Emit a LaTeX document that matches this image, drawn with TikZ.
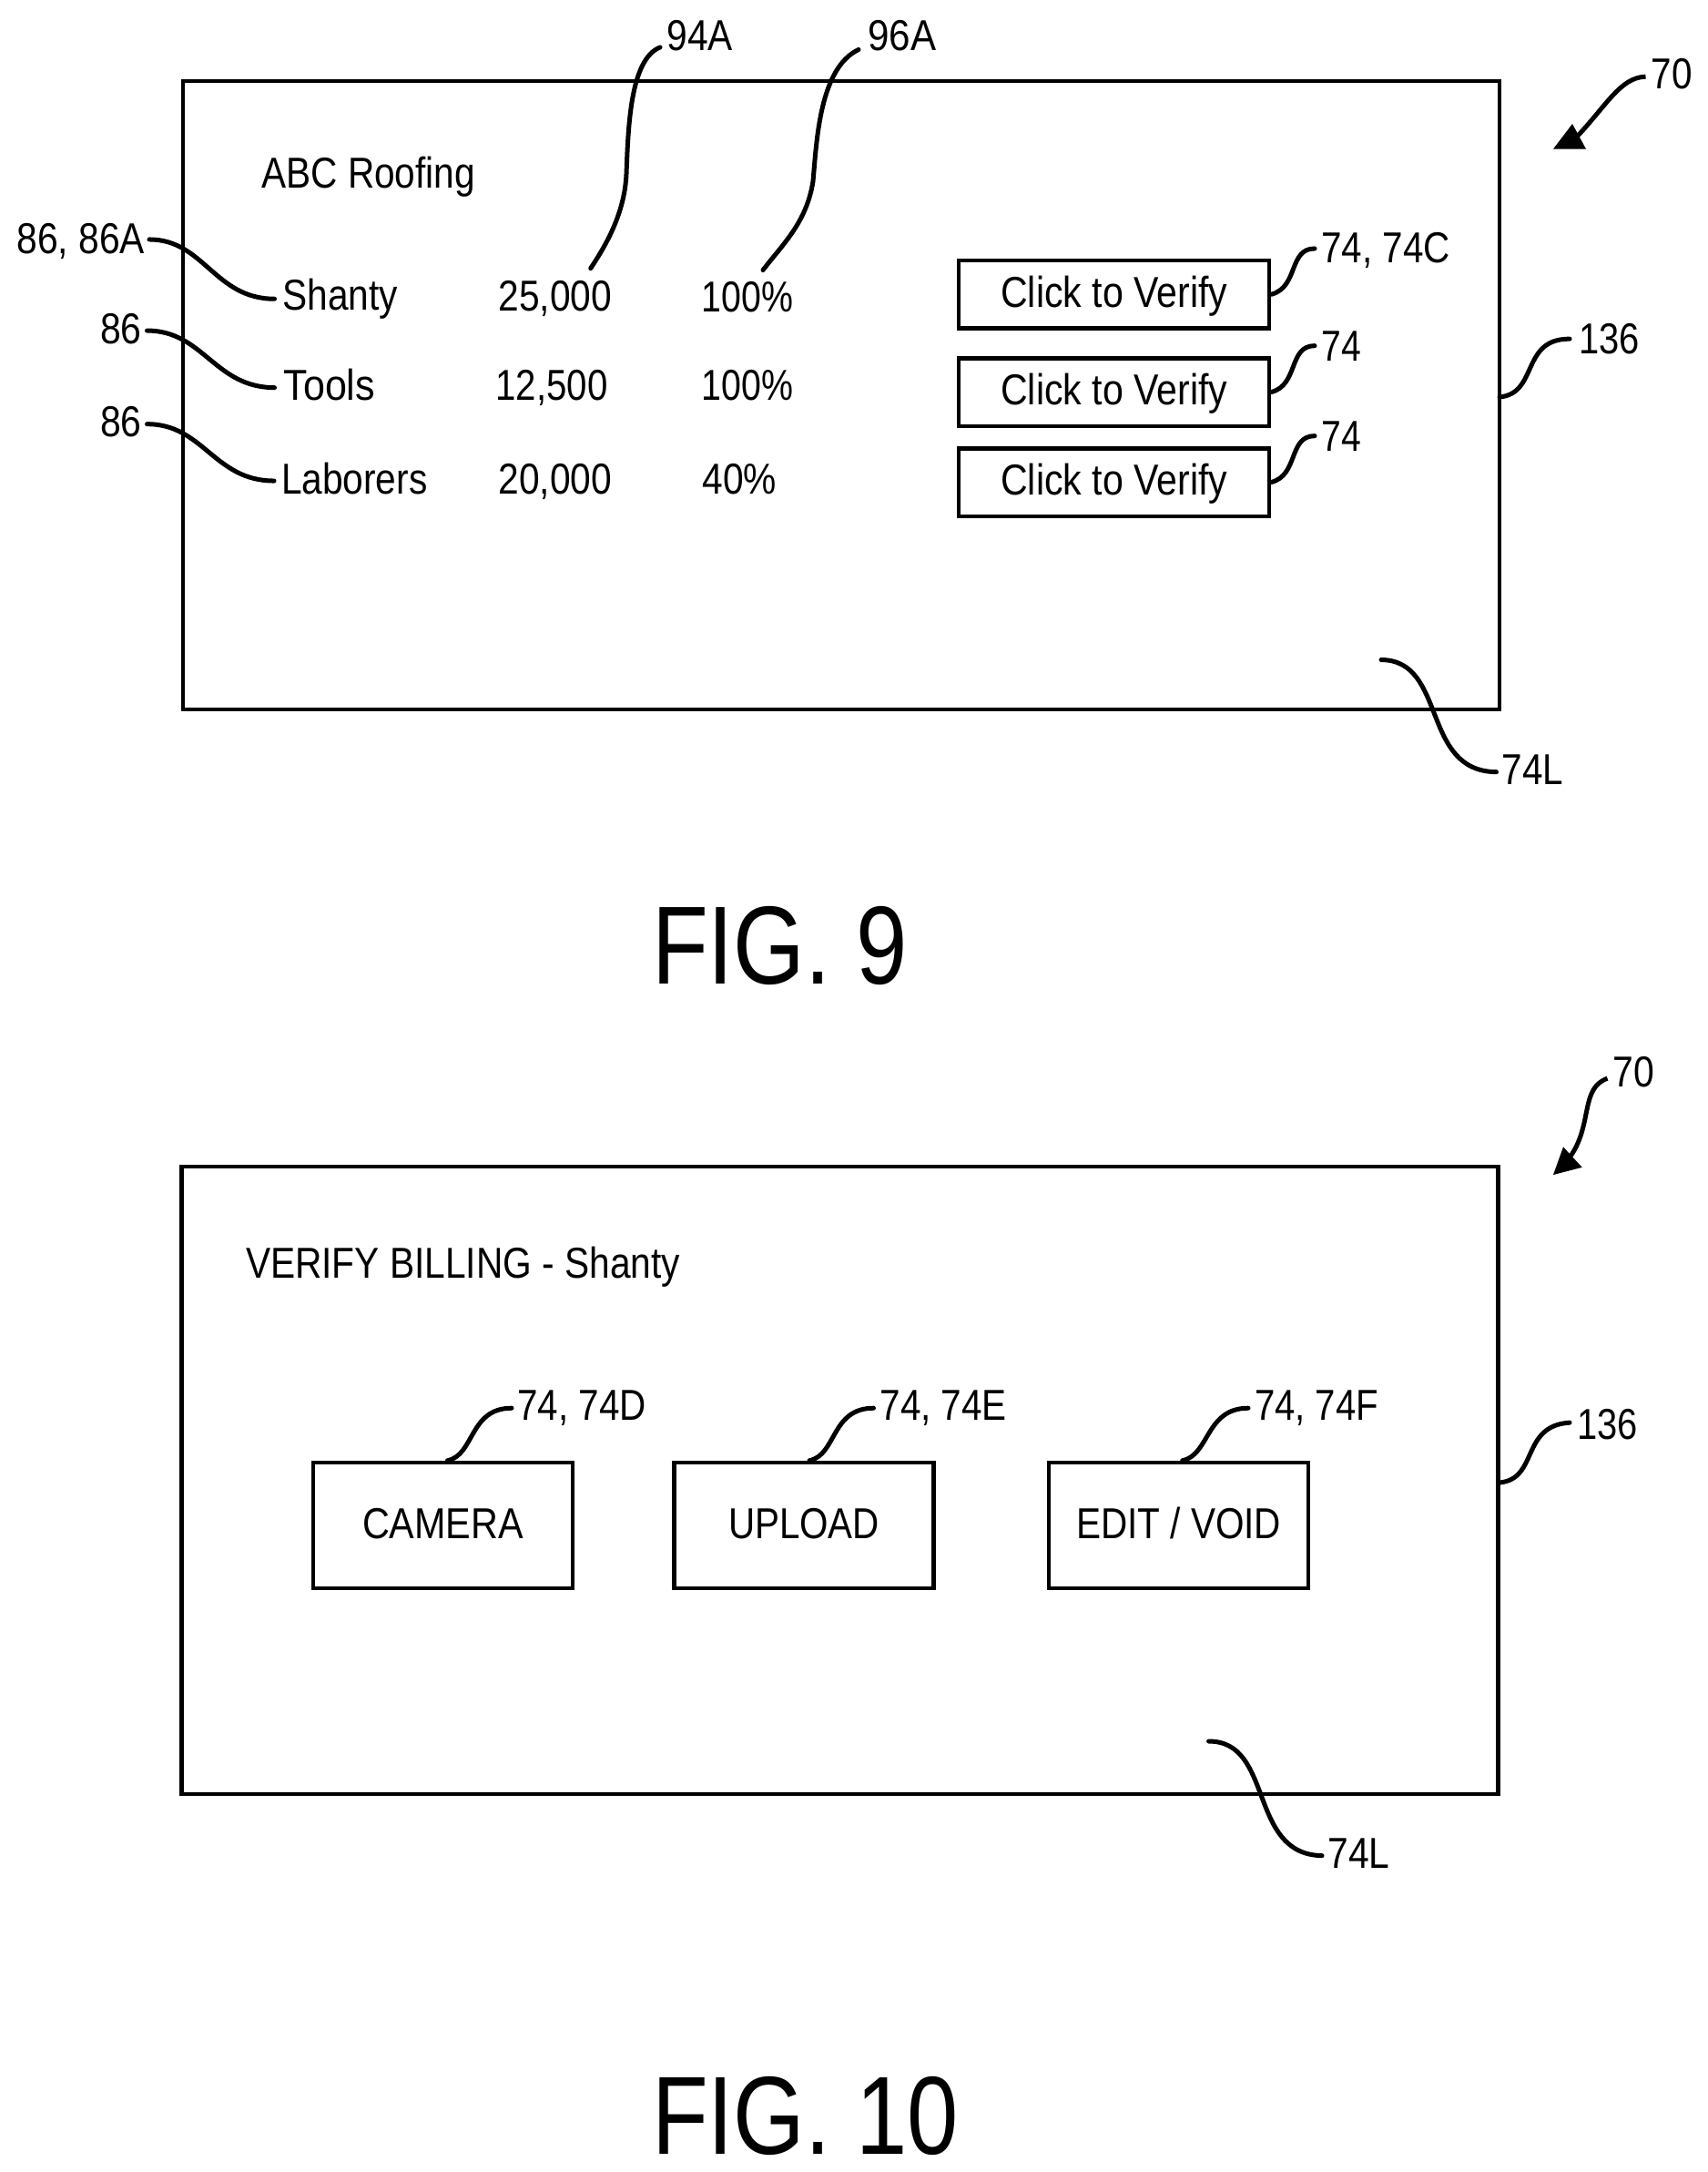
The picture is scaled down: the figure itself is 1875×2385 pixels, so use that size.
\documentclass[tikz,border=0pt]{standalone}
\usepackage{graphicx}
\usepackage{fontspec}
\setmainfont{Liberation Sans}
\newcommand\lblw{}
\newcommand\lab[5]{\pgfmathsetmacro\lblw{#3-#2+3.5}\node[lbl] (#1) at ({#2-1.5},#4) {\resizebox{\lblw pt}{\height}{#5}};}
\newcommand\bt[2]{\resizebox{#1pt}{\height}{#2}}
\tikzset{
  lbl/.style={anchor=base west,inner sep=0pt,outer sep=0pt,font=\fontsize{47.5}{50}\selectfont},
  figlbl/.style={anchor=base west,inner sep=0pt,outer sep=0pt,font=\fontsize{122}{130}\selectfont},
  screen/.style={draw=black,line width=4.5pt,inner sep=0pt,line join=miter},
  btn/.style={draw=black,line width=4.5pt,inner sep=0pt,text height=34pt,text depth=6pt,font=\fontsize{47.5}{50}\selectfont},
  lead/.style={draw=black,line width=5pt,line cap=round},
  head/.style={fill=black,draw=none}
}
\begin{document}
\begin{tikzpicture}[x=1pt,y=-1pt]
\useasboundingbox (0,0) rectangle (1875,2385);
% ---------- FIG 9 ----------
\node[screen,minimum width=1446pt,minimum height=690pt] (s9) at (924,434) {};
\lab{abc}{289}{520}{206.5}{ABC Roofing}
\lab{shanty}{312}{435}{340.5}{Shanty}
\lab{v1}{549}{670}{341.5}{25,000}
\lab{p1}{772}{869}{342}{100\%}
\lab{tools}{313}{410}{439}{Tools}
\lab{v2}{546}{665.5}{439}{12,500}
\lab{p2}{772}{869}{439}{100\%}
\lab{lab3}{310.5}{467.5}{542}{Laborers}
\lab{v3}{549}{670}{542}{20,000}
\lab{p3}{773}{851}{542}{40\%}
\lab{r86a}{20}{157}{278.5}{86, 86A}
\lab{r86b}{111.5}{153.5}{377}{86}
\lab{r86c}{111.5}{153.5}{479}{86}
\lab{r94}{734}{803}{55.5}{94A}
\lab{r96}{955}{1026.5}{56}{96A}
\lab{r70a}{1815}{1856.5}{97.5}{70}
\node[btn,minimum width=341pt,minimum height=74.5pt] (b1) at (1223.7,323.2) {\bt{249}{Click to Verify}};
\node[btn,minimum width=341pt,minimum height=74.5pt] (b2) at (1223.7,430.5) {\bt{249}{Click to Verify}};
\node[btn,minimum width=341pt,minimum height=74.5pt] (b3) at (1223.7,529.5) {\bt{249}{Click to Verify}};
\lab{r74c}{1453}{1591}{288.5}{74, 74C}
\lab{r74a}{1453}{1493}{396}{74}
\lab{r74b}{1453}{1493}{495}{74}
\lab{r136a}{1736}{1799}{388.5}{136}
\lab{r74la}{1651}{1715}{861}{74L}
\node[figlbl] (f9) at (716,1080.7) {\resizebox{281pt}{\height}{FIG. 9}};
% connectors FIG 9
\coordinate (m94) at (688,191);
\coordinate (m96) at (893,199);
\coordinate (s94) at (648.7,294.7);
\coordinate (s96) at (838,296.6);
\draw[lead] (s94) .. controls (665,270) and (686,235) .. (m94) .. controls (690,140) and (692,65) .. ([xshift=-7.5pt,yshift=4pt]r94.south west);
\draw[lead] (s96) .. controls (858,270) and (886,245) .. (m96) .. controls (897,155) and (900,75) .. ([xshift=-10.5pt,yshift=2pt]r96.south west);
\draw[lead] ([xshift=5pt,yshift=2pt]r86a.east) .. controls +(60,0) and +(-66,0) .. ([xshift=-9pt]shanty.west);
\draw[lead] ([xshift=6pt,yshift=-2.4pt]r86b.east) .. controls +(62,0) and +(-66,0) .. ([xshift=-10pt,yshift=-3.6pt]tools.west);
\draw[lead] ([xshift=6pt,yshift=-3pt]r86c.east) .. controls +(62,0) and +(-66,0) .. ([xshift=-8pt,yshift=-3pt]lab3.west);
\draw[lead] (b1.east) .. controls +(30,-8) and +(-29,0) .. ([xshift=-7.5pt,yshift=2pt]r74c.west);
\draw[lead] (b2.east) .. controls +(30,-8) and +(-29,0) .. ([xshift=-7.5pt]r74a.west);
\draw[lead] (b3.east) .. controls +(30,-8) and +(-29,0) .. ([xshift=-7.5pt]r74b.west);
\coordinate (t136a) at (1647,436);
\draw[lead] (t136a) .. controls (1690,432) and (1670,372) .. ([xshift=-10.5pt]r136a.west);
\coordinate (s74la) at (1517,724.5);
\draw[lead] (s74la) .. controls (1590,725) and (1560,847) .. ([xshift=-6pt,yshift=-3pt]r74la.west);
\coordinate (h9a) at (1706,163.6);
\coordinate (h9b) at (1727,136);
\coordinate (h9c) at (1742,163.6);
\coordinate (h9m) at (1733,149);
\draw[lead,line cap=butt] ([xshift=-6pt,yshift=-3pt]r70a.west) .. controls (1780,85) and (1765,115) .. (h9m);
\fill[head] (h9a) -- (h9b) -- (h9c) -- cycle;
% ---------- FIG 10 ----------
\node[screen,minimum width=1446pt,minimum height=689pt] (s10) at (922.5,1625.5) {};
\lab{ver}{271.5}{745}{1403.5}{VERIFY BILLING - Shanty}
\node[btn,minimum width=285pt,minimum height=138pt] (cam) at (486.5,1675) {\bt{177}{CAMERA}};
\node[btn,minimum width=285pt,minimum height=138pt] (upl) at (883,1675) {\bt{166}{UPLOAD}};
\node[btn,minimum width=285pt,minimum height=138pt] (edt) at (1294.7,1675) {\bt{225}{EDIT / VOID}};
\lab{r74d}{570}{708}{1559.5}{74, 74D}
\lab{r74e}{968}{1104}{1559.5}{74, 74E}
\lab{r74f}{1379.5}{1512}{1559.5}{74, 74F}
\lab{r136b}{1734}{1797}{1580.5}{136}
\lab{r70b}{1773}{1815}{1193.5}{70}
\lab{r74lb}{1460}{1524.5}{2051}{74L}
\node[figlbl] (f10) at (716,2365) {\resizebox{337pt}{\height}{FIG. 10}};
% connectors FIG 10
\draw[lead] ([xshift=5pt]cam.north) .. controls +(30,-6) and +(-47,0) .. ([xshift=-6.5pt]r74d.west);
\draw[lead] ([xshift=6pt]upl.north) .. controls +(30,-6) and +(-47,0) .. ([xshift=-7pt]r74e.west);
\draw[lead] ([xshift=4pt]edt.north) .. controls +(30,-6) and +(-47,0) .. ([xshift=-7pt]r74f.west);
\coordinate (t136b) at (1647,1628);
\draw[lead] (t136b) .. controls (1690,1624) and (1670,1565.5) .. ([xshift=-8.5pt,yshift=2pt]r136b.west);
\coordinate (s74lb) at (1327.6,1912);
\draw[lead] (s74lb) .. controls (1400,1912) and (1370,2036) .. ([xshift=-6.5pt,yshift=-3pt]r74lb.west);
\coordinate (h10a) at (1706,1290);
\coordinate (h10b) at (1717,1259.4);
\coordinate (h10c) at (1737.7,1281.8);
\coordinate (h10m) at (1724,1271);
\draw[lead,line cap=butt] ([xshift=-6pt,yshift=-7pt]r70b.west) .. controls (1735,1195) and (1750,1235) .. (h10m);
\fill[head] (h10a) -- (h10b) -- (h10c) -- cycle;
\end{tikzpicture}
\end{document}
